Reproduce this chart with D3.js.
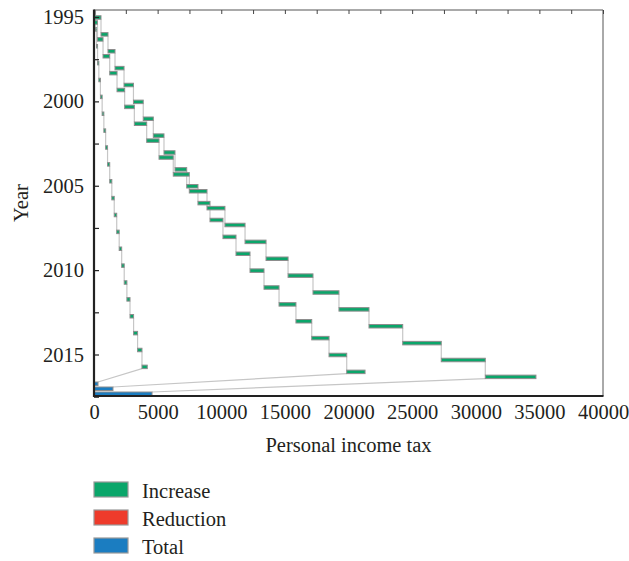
<!DOCTYPE html>
<html>
<head>
<meta charset="utf-8">
<script src="https://cdn.jsdelivr.net/npm/d3@7/dist/d3.min.js"></script>
<style>
  body { margin: 0; background: #fff; }
  #chart text { font-family: "Liberation Serif", "DejaVu Serif", serif; fill: #231f20; }
</style>
</head>
<body>
<div id="chart"></div>
<script>
// data
var years = [1995, 1996, 1997, 1998, 1999, 2000, 2001, 2002, 2003, 2004, 2005,
             2006, 2007, 2008, 2009, 2010, 2011, 2012, 2013, 2014, 2015, 2016];
var groups = ["g1", "g2", "g3"];
var g1Increase = [120, 80, 80, 100, 125, 135, 135, 140, 150, 170, 165,
                  190, 195, 195, 195, 200, 210, 245, 280, 315, 345, 415];
var g2Increase = [550, 550, 550, 710, 740, 770, 790, 840, 865, 920, 885,
                  945, 1020, 1025, 1100, 1100, 1180, 1330, 1240, 1360, 1390, 1440];
var g3Increase = [275, 435, 525, 575, 600, 760, 970, 970, 1120, 1260, 1390,
                  1410, 1580, 1650, 1730, 1960, 2040, 2360, 2650, 3030, 3460, 3980];
var totals = [315, 1490, 4560];
var totalYear = 2017;
var xTicks = [0, 5000, 10000, 15000, 20000, 25000, 30000, 35000, 40000];
var yTicks = [1995, 2000, 2005, 2010, 2015];
var legendLabels = ["Increase", "Reduction", "Total"];
var legendColors = ["#0aa66a", "#ee3b2b", "#1b7dc1"];

// set the dimensions of the graph
var W = 629, H = 561;
var plot = {left: 94, right: 603, top: 10, bottom: 396};
var fs = "20.5px";

var svg = d3.select("#chart").append("svg")
    .attr("width", W)
    .attr("height", H);

// set the ranges
var x = d3.scaleLinear().domain([0, 40000]).range([plot.left, plot.right]);
var y = d3.scaleLinear().domain([1995, 2015]).range([17, 354.5]);
var sub = d3.scalePoint().domain(groups).range([-4.5, 5.5]);

var barH = 3.5;

// build the waterfall steps for each group
var incs = [g1Increase, g2Increase, g3Increase];
var steps = [];
groups.forEach(function(g, gi) {
    var run = 0;
    years.forEach(function(yr, i) {
        steps.push({group: g, gi: gi, year: yr, i: i, start: run, end: run + incs[gi][i]});
        run += incs[gi][i];
    });
});

var totalBars = groups.map(function(g, gi) {
    return {group: g, gi: gi, start: 0, end: totals[gi]};
});

// connectors
var links = [];
steps.forEach(function(d) {
    if (d.i < years.length - 1) {
        links.push({x1: x(d.end), y1: y(d.year) + sub(d.group) + barH / 2,
                    x2: x(d.end), y2: y(d.year + 1) + sub(d.group) - barH / 2});
    } else {
        var t = totalBars[d.gi];
        links.push({x1: x(d.start), y1: y(d.year) + sub(d.group) + barH / 2,
                    x2: x(t.end), y2: y(totalYear) + sub(d.group) - barH / 2});
    }
});

svg.selectAll(".link")
    .data(links)
    .enter().append("line")
    .attr("class", "link")
    .attr("x1", d => d.x1).attr("y1", d => d.y1)
    .attr("x2", d => d.x2).attr("y2", d => d.y2)
    .style("stroke", "#c6c6c6")
    .style("stroke-width", 1.2);

// increase bars
svg.selectAll(".bar")
    .data(steps)
    .enter().append("rect")
    .attr("class", "bar")
    .attr("x", d => x(d.start))
    .attr("y", d => y(d.year) + sub(d.group) - barH / 2)
    .attr("width", d => x(d.end) - x(d.start))
    .attr("height", barH)
    .style("fill", legendColors[0])
    .style("stroke", "#8d8d8d")
    .style("stroke-width", 1);

// total bars
svg.selectAll(".total")
    .data(totalBars)
    .enter().append("rect")
    .attr("class", "total")
    .attr("x", d => x(d.start))
    .attr("y", d => y(totalYear) + sub(d.group) - barH / 2)
    .attr("width", d => x(d.end) - x(d.start))
    .attr("height", barH)
    .style("fill", legendColors[2])
    .style("stroke", "#8d8d8d")
    .style("stroke-width", 1);

// frame: thin top and right, heavy left and bottom
svg.append("line")
    .attr("x1", plot.left).attr("x2", plot.right)
    .attr("y1", plot.top).attr("y2", plot.top)
    .style("stroke", "#555").style("stroke-width", 1);
svg.append("line")
    .attr("x1", plot.right).attr("x2", plot.right)
    .attr("y1", plot.top).attr("y2", plot.bottom)
    .style("stroke", "#555").style("stroke-width", 1);

// top ticks every 2500, pointing in
svg.append("g")
    .attr("class", "top axis")
    .attr("transform", "translate(0," + plot.top + ")")
    .call(d3.axisTop(x).tickValues(d3.range(0, 40001, 2500)).tickSize(-4).tickFormat(""))
    .call(g => g.select(".domain").remove())
    .selectAll("line").style("stroke", "#444");

// Add the X Axis
svg.append("g")
    .attr("class", "x axis")
    .attr("transform", "translate(0," + plot.bottom + ")")
    .call(d3.axisBottom(x).tickValues(xTicks).tickSize(0).tickPadding(8).tickFormat(d3.format("d")))
    .call(g => g.select(".domain").remove())
    .selectAll("text").style("font-size", fs);

// Add the Y Axis
var yAll = d3.range(1995, 2017.6, 2.5);
svg.append("g")
    .attr("class", "y axis")
    .attr("transform", "translate(" + plot.left + ",0)")
    .call(d3.axisLeft(y).tickValues(yAll).tickSize(-5).tickPadding(10)
        .tickFormat(d => yTicks.indexOf(d) >= 0 ? d : ""))
    .call(g => g.select(".domain").remove())
    .call(g => g.selectAll("line").style("stroke", "#222").style("stroke-width", 1.2))
    .selectAll("text").style("font-size", fs);

svg.append("line")
    .attr("x1", plot.left).attr("x2", plot.left)
    .attr("y1", plot.top - 0.5).attr("y2", plot.bottom + 1)
    .style("stroke", "#222").style("stroke-width", 2.2);
svg.append("line")
    .attr("x1", plot.left - 1).attr("x2", plot.right + 0.5)
    .attr("y1", plot.bottom).attr("y2", plot.bottom)
    .style("stroke", "#222").style("stroke-width", 2.2);

// axis labels
svg.append("text")
    .attr("x", (plot.left + plot.right) / 2)
    .attr("y", 452)
    .style("text-anchor", "middle")
    .style("font-size", fs)
    .text("Personal income tax");

svg.append("text")
    .attr("transform", "rotate(-90)")
    .attr("x", -(plot.top + plot.bottom) / 2)
    .attr("y", 28)
    .style("text-anchor", "middle")
    .style("font-size", fs)
    .text("Year");

// legend
var legend = svg.selectAll(".legend")
    .data(legendLabels)
    .enter().append("g")
    .attr("class", "legend")
    .attr("transform", (d, i) => "translate(94," + (482 + i * 28) + ")");

legend.append("rect")
    .attr("width", 34)
    .attr("height", 15)
    .style("fill", (d, i) => legendColors[i])
    .style("stroke", "#999")
    .style("stroke-width", 1.2);

legend.append("text")
    .attr("x", 48)
    .attr("y", 15.5)
    .style("font-size", fs)
    .text(d => d);
</script>
</body>
</html>
